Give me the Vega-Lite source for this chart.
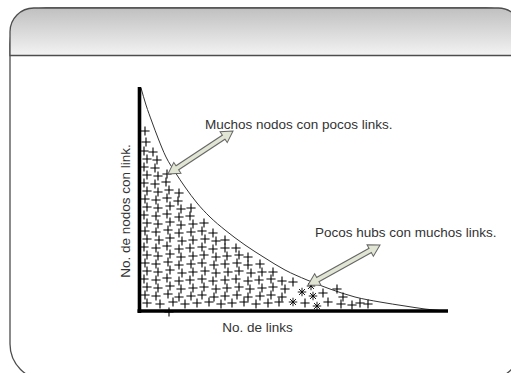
{
  "$schema": "https://vega.github.io/schema/vega-lite/v6.json",
  "width": 511,
  "height": 373,
  "autosize": {"type": "fit", "contains": "padding"},
  "padding": 0,
  "background": "white",
  "config": {"view": {"stroke": null}},
  "datasets": {
    "frame": [{"x0": 10, "x1": 522, "y0": 8, "y1": 380}],
    "header": [{"x0": 10, "x1": 522, "y0": 8, "y1": 55.5}],
    "axes": [
      {"x0": 139.5, "y0": 87, "x1": 139.5, "y1": 313},
      {"x0": 137.5, "y0": 311, "x1": 448, "y1": 311}
    ],
    "curve": [
      {"x": 141, "y": 88}, {"x": 146, "y": 105}, {"x": 152, "y": 122}, {"x": 158, "y": 138},
      {"x": 166, "y": 157}, {"x": 175, "y": 172}, {"x": 185, "y": 187}, {"x": 197, "y": 203},
      {"x": 210, "y": 217}, {"x": 225, "y": 230}, {"x": 245, "y": 245}, {"x": 265, "y": 258},
      {"x": 285, "y": 270}, {"x": 307, "y": 280}, {"x": 330, "y": 289}, {"x": 355, "y": 297},
      {"x": 380, "y": 302}, {"x": 405, "y": 306}, {"x": 425, "y": 309}, {"x": 445, "y": 311}
    ],
    "pluses": [
      {"x": 145, "y": 131},
      {"x": 146, "y": 142},
      {"x": 144, "y": 151}, {"x": 153, "y": 152},
      {"x": 147, "y": 159}, {"x": 157, "y": 160},
      {"x": 144, "y": 167}, {"x": 155, "y": 168},
      {"x": 147, "y": 175}, {"x": 158, "y": 176}, {"x": 167, "y": 174},
      {"x": 144, "y": 183}, {"x": 155, "y": 184}, {"x": 166, "y": 182},
      {"x": 147, "y": 191}, {"x": 158, "y": 192}, {"x": 169, "y": 190}, {"x": 179, "y": 193},
      {"x": 145, "y": 199}, {"x": 156, "y": 200}, {"x": 167, "y": 198}, {"x": 178, "y": 201},
      {"x": 147, "y": 207}, {"x": 158, "y": 208}, {"x": 170, "y": 206}, {"x": 181, "y": 209}, {"x": 191, "y": 208},
      {"x": 144, "y": 215}, {"x": 156, "y": 216}, {"x": 167, "y": 214}, {"x": 179, "y": 217}, {"x": 190, "y": 216},
      {"x": 147, "y": 223}, {"x": 158, "y": 224}, {"x": 170, "y": 222}, {"x": 181, "y": 225}, {"x": 193, "y": 224}, {"x": 204, "y": 223},
      {"x": 145, "y": 231}, {"x": 156, "y": 232}, {"x": 168, "y": 230}, {"x": 179, "y": 233}, {"x": 191, "y": 232}, {"x": 202, "y": 231}, {"x": 213, "y": 233},
      {"x": 147, "y": 239}, {"x": 159, "y": 240}, {"x": 170, "y": 238}, {"x": 182, "y": 241}, {"x": 193, "y": 240}, {"x": 205, "y": 239}, {"x": 216, "y": 241}, {"x": 225, "y": 240},
      {"x": 144, "y": 247}, {"x": 156, "y": 248}, {"x": 167, "y": 246}, {"x": 179, "y": 249}, {"x": 190, "y": 248}, {"x": 202, "y": 247}, {"x": 213, "y": 249}, {"x": 225, "y": 248}, {"x": 236, "y": 248},
      {"x": 147, "y": 255}, {"x": 158, "y": 256}, {"x": 170, "y": 254}, {"x": 181, "y": 257}, {"x": 193, "y": 256}, {"x": 204, "y": 255}, {"x": 216, "y": 257}, {"x": 227, "y": 256}, {"x": 239, "y": 255}, {"x": 248, "y": 257},
      {"x": 145, "y": 263}, {"x": 156, "y": 264}, {"x": 168, "y": 262}, {"x": 179, "y": 265}, {"x": 191, "y": 264}, {"x": 202, "y": 263}, {"x": 214, "y": 265}, {"x": 225, "y": 264}, {"x": 237, "y": 263}, {"x": 248, "y": 265}, {"x": 260, "y": 264},
      {"x": 147, "y": 271}, {"x": 158, "y": 272}, {"x": 170, "y": 270}, {"x": 182, "y": 273}, {"x": 193, "y": 272}, {"x": 205, "y": 271}, {"x": 216, "y": 273}, {"x": 228, "y": 272}, {"x": 239, "y": 271}, {"x": 251, "y": 273}, {"x": 262, "y": 272}, {"x": 273, "y": 272},
      {"x": 144, "y": 279}, {"x": 156, "y": 280}, {"x": 167, "y": 278}, {"x": 179, "y": 281}, {"x": 190, "y": 280}, {"x": 202, "y": 279}, {"x": 213, "y": 281}, {"x": 225, "y": 280}, {"x": 236, "y": 279}, {"x": 248, "y": 281}, {"x": 259, "y": 280}, {"x": 271, "y": 279}, {"x": 282, "y": 281}, {"x": 293, "y": 282},
      {"x": 147, "y": 287}, {"x": 158, "y": 288}, {"x": 170, "y": 286}, {"x": 181, "y": 289}, {"x": 193, "y": 288}, {"x": 204, "y": 287}, {"x": 216, "y": 289}, {"x": 227, "y": 288}, {"x": 239, "y": 287}, {"x": 250, "y": 289}, {"x": 262, "y": 288}, {"x": 273, "y": 287}, {"x": 285, "y": 289}, {"x": 337, "y": 289},
      {"x": 145, "y": 295}, {"x": 156, "y": 296}, {"x": 168, "y": 294}, {"x": 179, "y": 297}, {"x": 191, "y": 296}, {"x": 202, "y": 295}, {"x": 214, "y": 297}, {"x": 225, "y": 296}, {"x": 237, "y": 295}, {"x": 248, "y": 297}, {"x": 260, "y": 296}, {"x": 271, "y": 295}, {"x": 282, "y": 297}, {"x": 323, "y": 293}, {"x": 343, "y": 297},
      {"x": 147, "y": 303}, {"x": 160, "y": 304}, {"x": 173, "y": 302}, {"x": 185, "y": 304}, {"x": 197, "y": 303}, {"x": 209, "y": 302}, {"x": 221, "y": 304}, {"x": 232, "y": 303}, {"x": 244, "y": 302}, {"x": 256, "y": 304}, {"x": 268, "y": 303}, {"x": 279, "y": 302}, {"x": 305, "y": 303}, {"x": 328, "y": 302}, {"x": 341, "y": 304}, {"x": 352, "y": 305}, {"x": 360, "y": 303}, {"x": 368, "y": 304},
      {"x": 169, "y": 312}
    ],
    "stars": [
      {"x": 293, "y": 302}, {"x": 302, "y": 292}, {"x": 311, "y": 286}, {"x": 313, "y": 296}, {"x": 317, "y": 306}
    ],
    "arrows": [
      {"x0": 168, "y0": 174, "x1": 233, "y1": 131},
      {"x0": 308, "y0": 285, "x1": 380, "y1": 245}
    ],
    "notes": [
      {"x": 205, "y": 129, "label": "Muchos nodos con pocos links."},
      {"x": 315, "y": 237, "label": "Pocos hubs con muchos links."}
    ],
    "titles": [
      {"x": 257.5, "y": 332, "a": 0, "label": "No. de links"},
      {"x": 130, "y": 211, "a": 270, "label": "No. de nodos con link."}
    ]
  },
  "layer": [
    {
      "data": {"name": "frame"},
      "mark": {"type": "rect", "clip": true, "fill": "#ffffff", "stroke": "#4d4d4d", "strokeWidth": 1.3, "cornerRadius": 36},
      "encoding": {
        "x": {"field": "x0", "type": "quantitative", "scale": {"domain": [0, 511], "nice": false, "zero": false}, "axis": null},
        "x2": {"field": "x1"},
        "y": {"field": "y0", "type": "quantitative", "scale": {"domain": [0, 373], "nice": false, "zero": false, "reverse": true}, "axis": null},
        "y2": {"field": "y1"}
      }
    },
    {
      "data": {"name": "header"},
      "mark": {
        "type": "rect", "clip": true, "stroke": "#4d4d4d", "strokeWidth": 1.3,
        "cornerRadiusTopLeft": 36, "cornerRadiusTopRight": 36,
        "fill": {"gradient": "linear", "x1": 0, "y1": 0, "x2": 0, "y2": 1,
          "stops": [{"offset": 0, "color": "#c0c0c0"}, {"offset": 1, "color": "#f3f3f3"}]}
      },
      "encoding": {
        "x": {"field": "x0", "type": "quantitative", "scale": {"domain": [0, 511], "nice": false, "zero": false}, "axis": null},
        "x2": {"field": "x1"},
        "y": {"field": "y0", "type": "quantitative", "scale": {"domain": [0, 373], "nice": false, "zero": false, "reverse": true}, "axis": null},
        "y2": {"field": "y1"}
      }
    },
    {
      "data": {"name": "curve"},
      "mark": {"type": "line", "interpolate": "monotone", "stroke": "#333333", "strokeWidth": 1},
      "encoding": {
        "x": {"field": "x", "type": "quantitative", "scale": {"domain": [0, 511], "nice": false, "zero": false}, "axis": null},
        "y": {"field": "y", "type": "quantitative", "scale": {"domain": [0, 373], "nice": false, "zero": false, "reverse": true}, "axis": null}
      }
    },
    {
      "data": {"name": "pluses"},
      "mark": {"type": "point", "shape": "M-1,0H1M0,-1V1", "filled": false, "stroke": "#000000", "strokeWidth": 1.1, "size": 84, "opacity": 1},
      "encoding": {
        "x": {"field": "x", "type": "quantitative", "scale": {"domain": [0, 511], "nice": false, "zero": false}, "axis": null},
        "y": {"field": "y", "type": "quantitative", "scale": {"domain": [0, 373], "nice": false, "zero": false, "reverse": true}, "axis": null}
      }
    },
    {
      "data": {"name": "stars"},
      "mark": {"type": "point", "shape": "M-1,0H1M0,-1V1M-0.7,-0.7L0.7,0.7M-0.7,0.7L0.7,-0.7", "filled": false, "stroke": "#000000", "strokeWidth": 0.9, "size": 72, "opacity": 1},
      "encoding": {
        "x": {"field": "x", "type": "quantitative", "scale": {"domain": [0, 511], "nice": false, "zero": false}, "axis": null},
        "y": {"field": "y", "type": "quantitative", "scale": {"domain": [0, 373], "nice": false, "zero": false, "reverse": true}, "axis": null}
      }
    },
    {
      "data": {"name": "axes"},
      "mark": {"type": "rule", "stroke": "#000000", "strokeWidth": 3.6, "strokeCap": "butt"},
      "encoding": {
        "x": {"field": "x0", "type": "quantitative", "scale": {"domain": [0, 511], "nice": false, "zero": false}, "axis": null},
        "x2": {"field": "x1"},
        "y": {"field": "y0", "type": "quantitative", "scale": {"domain": [0, 373], "nice": false, "zero": false, "reverse": true}, "axis": null},
        "y2": {"field": "y1"}
      }
    },
    {
      "data": {"name": "arrows"},
      "transform": [
        {"calculate": "datum.x1 - datum.x0", "as": "dx"},
        {"calculate": "datum.y1 - datum.y0", "as": "dy"},
        {"calculate": "sqrt(datum.dx * datum.dx + datum.dy * datum.dy)", "as": "L"},
        {"calculate": "datum.dx / datum.L", "as": "ux"},
        {"calculate": "datum.dy / datum.L", "as": "uy"},
        {"calculate": "atan2(datum.ux, -datum.uy) * 180 / PI", "as": "angTip"},
        {"calculate": "datum.angTip + 180", "as": "angTail"},
        {"calculate": "datum.x1 - 5.6 * datum.ux", "as": "hx1"},
        {"calculate": "datum.y1 - 5.6 * datum.uy", "as": "hy1"},
        {"calculate": "datum.x0 + 5.6 * datum.ux", "as": "hx0"},
        {"calculate": "datum.y0 + 5.6 * datum.uy", "as": "hy0"},
        {"calculate": "datum.x0 + 9 * datum.ux", "as": "sx0"},
        {"calculate": "datum.y0 + 9 * datum.uy", "as": "sy0"},
        {"calculate": "datum.x1 - 9 * datum.ux", "as": "sx1"},
        {"calculate": "datum.y1 - 9 * datum.uy", "as": "sy1"}
      ],
      "layer": [
        {
          "mark": {"type": "rule", "stroke": "#666666", "strokeWidth": 6, "strokeCap": "butt"},
          "encoding": {
            "x": {"field": "sx0", "type": "quantitative", "scale": {"domain": [0, 511], "nice": false, "zero": false}, "axis": null},
            "x2": {"field": "sx1"},
            "y": {"field": "sy0", "type": "quantitative", "scale": {"domain": [0, 373], "nice": false, "zero": false, "reverse": true}, "axis": null},
            "y2": {"field": "sy1"}
          }
        },
        {
          "mark": {"type": "point", "shape": "triangle-up", "filled": true, "fill": "#e1e5d3", "stroke": "#666666", "strokeWidth": 1, "size": 169, "opacity": 1},
          "encoding": {
            "x": {"field": "hx1", "type": "quantitative", "scale": {"domain": [0, 511], "nice": false, "zero": false}, "axis": null},
            "y": {"field": "hy1", "type": "quantitative", "scale": {"domain": [0, 373], "nice": false, "zero": false, "reverse": true}, "axis": null},
            "angle": {"field": "angTip", "type": "quantitative", "scale": null}
          }
        },
        {
          "mark": {"type": "point", "shape": "triangle-up", "filled": true, "fill": "#e1e5d3", "stroke": "#666666", "strokeWidth": 1, "size": 169, "opacity": 1},
          "encoding": {
            "x": {"field": "hx0", "type": "quantitative", "scale": {"domain": [0, 511], "nice": false, "zero": false}, "axis": null},
            "y": {"field": "hy0", "type": "quantitative", "scale": {"domain": [0, 373], "nice": false, "zero": false, "reverse": true}, "axis": null},
            "angle": {"field": "angTail", "type": "quantitative", "scale": null}
          }
        },
        {
          "mark": {"type": "rule", "stroke": "#e1e5d3", "strokeWidth": 3.8, "strokeCap": "butt"},
          "encoding": {
            "x": {"field": "sx0", "type": "quantitative", "scale": {"domain": [0, 511], "nice": false, "zero": false}, "axis": null},
            "x2": {"field": "sx1"},
            "y": {"field": "sy0", "type": "quantitative", "scale": {"domain": [0, 373], "nice": false, "zero": false, "reverse": true}, "axis": null},
            "y2": {"field": "sy1"}
          }
        }
      ]
    },
    {
      "data": {"name": "notes"},
      "mark": {"type": "text", "align": "left", "baseline": "alphabetic", "font": "Liberation Sans", "fontSize": 13.5, "color": "#333333"},
      "encoding": {
        "x": {"field": "x", "type": "quantitative", "scale": {"domain": [0, 511], "nice": false, "zero": false}, "axis": null},
        "y": {"field": "y", "type": "quantitative", "scale": {"domain": [0, 373], "nice": false, "zero": false, "reverse": true}, "axis": null},
        "text": {"field": "label"}
      }
    },
    {
      "data": {"name": "titles"},
      "mark": {"type": "text", "align": "center", "baseline": "alphabetic", "font": "Liberation Sans", "fontSize": 13.5, "color": "#333333"},
      "encoding": {
        "x": {"field": "x", "type": "quantitative", "scale": {"domain": [0, 511], "nice": false, "zero": false}, "axis": null},
        "y": {"field": "y", "type": "quantitative", "scale": {"domain": [0, 373], "nice": false, "zero": false, "reverse": true}, "axis": null},
        "angle": {"field": "a", "type": "quantitative", "scale": null},
        "text": {"field": "label"}
      }
    }
  ]
}
